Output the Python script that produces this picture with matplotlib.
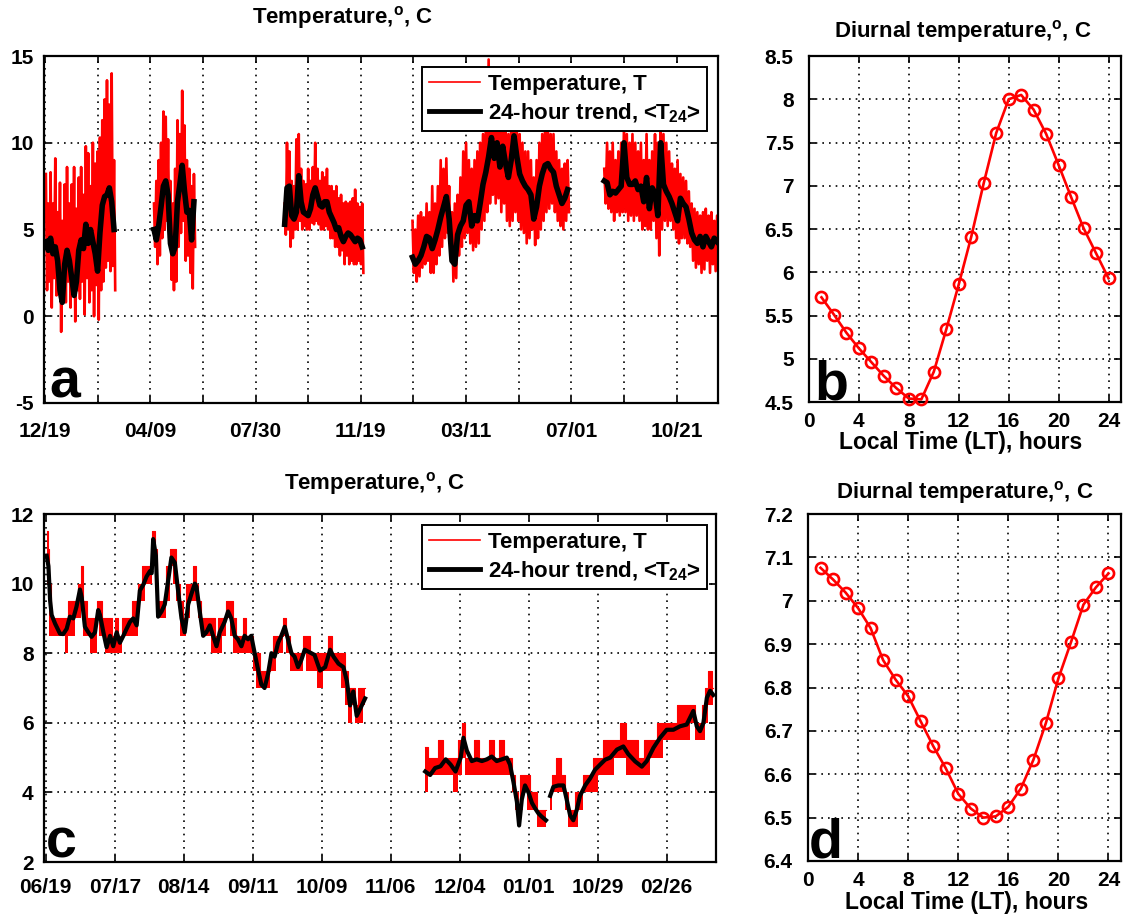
import numpy as np
import matplotlib
matplotlib.use('Agg')
import matplotlib.pyplot as plt
from matplotlib.lines import Line2D
from matplotlib.ticker import FormatStrFormatter, FixedLocator

plt.rcParams['font.family'] = ['Liberation Sans', 'DejaVu Sans']
plt.rcParams['font.weight'] = 'bold'
plt.rcParams['mathtext.fontset'] = 'custom'
plt.rcParams['mathtext.rm'] = 'Liberation Sans:bold'
plt.rcParams['mathtext.bf'] = 'Liberation Sans:bold'
plt.rcParams['mathtext.it'] = 'Liberation Sans:bold'
plt.rcParams['mathtext.default'] = 'rm'

# ---------------- Panel a data (days since 12/19) ----------------
a_seg_start = [1, 116, 255, 391, 595]
a_seg_step = [2.5, 2.5, 2.5, 3, 3]

a1_trend = [4.3, 3.8, 4.5, 3.6, 4.0, 3.2, 1.5, 0.8, 3.0, 3.8, 3.2, 2.2, 1.2, 2.0, 3.8,
            4.4, 3.9, 5.3, 4.2, 5.0, 4.3, 3.6, 2.6, 4.8, 6.4, 6.9, 7.0, 7.4, 6.6, 5.0]
a1_hi = [8.2, 6.5, 8.3, 6.5, 9.1, 6.0, 7.7, 5.5, 7.6, 8.6, 6.5, 7.6, 8.6, 6.2, 8.0,
         8.6, 7.0, 9.8, 9.4, 7.5, 10.0, 8.8, 9.5, 10.3, 11.3, 12.5, 13.6, 12.2, 14.0, 9.0]
a1_lo = [1.5, 2.0, 0.5, 2.2, 1.2, 2.0, -0.9, 1.5, 0.8, 2.0, 0.5, 1.8, -0.3, 1.5, 1.0,
         2.0, 0.1, 2.2, 0.8, 1.5, 0.0, 1.8, -0.2, 1.5, 2.0, 2.8, 3.2, 2.6, 2.9, 1.5]

a2_trend = [5.0, 4.4, 5.2, 6.3, 7.5, 7.8, 7.0, 4.2, 3.6, 4.0, 6.6, 7.6, 8.7, 7.2, 6.0, 6.1, 4.4, 6.6]
a2_hi = [6.5, 7.8, 9.0, 10.0, 11.8, 11.5, 10.2, 7.8, 6.5, 8.5, 11.3, 10.5, 13.0, 11.0, 9.0, 8.5, 7.5, 8.2]
a2_lo = [4.0, 3.0, 3.5, 4.5, 5.0, 5.5, 4.5, 2.1, 1.5, 2.0, 4.0, 4.8, 5.5, 3.2, 3.5, 2.5, 1.6, 4.0]

a3_trend = [5.3, 7.4, 7.5, 5.8, 5.6, 6.0, 8.1, 6.6, 6.0, 5.9, 5.8, 6.2, 7.0, 7.4, 6.9, 6.4, 6.3,
            6.6, 6.6, 6.0, 5.7, 5.4, 5.0, 5.1, 4.6, 4.3, 4.6, 4.8, 4.7, 4.5, 4.3, 4.5, 4.4, 4.0]
a3_hi = [6.5, 10.0, 9.5, 7.8, 7.5, 10.2, 10.5, 8.5, 7.8, 7.6, 8.5, 7.8, 8.6, 10.0, 8.5, 7.8, 8.3,
         8.0, 8.5, 7.5, 7.5, 7.2, 7.5, 6.8, 7.0, 6.5, 6.6, 6.5, 6.6, 6.8, 7.3, 6.5, 6.3, 6.5]
a3_lo = [4.7, 5.0, 4.0, 4.5, 5.0, 5.0, 5.5, 5.0, 5.2, 5.0, 5.0, 5.4, 5.3, 5.5, 5.3, 5.0, 5.0,
         5.2, 5.0, 4.5, 4.5, 4.0, 4.0, 3.5, 3.8, 3.0, 3.5, 3.0, 3.2, 3.0, 3.0, 3.2, 3.0, 2.5]

a4_trend = [3.4, 3.0, 3.2, 3.5, 4.0, 4.6, 4.5, 3.9, 4.4, 5.0, 5.7, 6.3, 6.9, 5.6, 3.2, 3.0, 4.7, 5.2,
            5.5, 6.4, 6.6, 5.2, 5.8, 5.5, 6.5, 7.6, 8.3, 9.2, 10.3, 9.1, 10.0, 8.6, 9.8, 8.8, 8.0, 9.0,
            10.4, 9.2, 8.2, 7.8, 7.5, 7.3, 7.0, 5.6, 6.3, 7.5, 8.2, 8.7, 8.8, 8.5, 8.3, 7.5, 7.0, 6.5,
            6.8, 7.3]
a4_hi = [5.5, 5.0, 5.8, 6.0, 5.7, 6.5, 6.0, 7.5, 6.5, 7.5, 9.0, 8.5, 9.1, 7.5, 6.0, 6.5, 7.0, 8.0,
         9.5, 10.0, 9.0, 8.5, 9.0, 9.5, 10.0, 10.5, 11.0, 14.8, 11.5, 11.0, 11.5, 11.0, 11.5, 11.0,
         10.5, 11.0, 11.5, 11.0, 10.5, 10.0, 9.5, 9.5, 9.0, 8.0, 9.0, 10.0, 10.5, 11.0, 11.0, 10.5,
         10.5, 9.5, 9.0, 8.5, 8.8, 9.0]
a4_lo = [2.5, 2.0, 2.3, 2.8, 3.0, 3.2, 2.5, 2.5, 3.0, 3.5, 4.0, 4.5, 4.8, 3.5, 2.0, 2.2, 3.5, 4.0,
         4.5, 4.8, 4.2, 3.8, 4.0, 4.2, 5.0, 5.5, 6.0, 6.5, 7.0, 6.5, 6.8, 6.0, 6.5, 5.5, 5.2, 5.5,
         6.0, 5.5, 5.0, 4.8, 4.2, 4.5, 5.0, 4.1, 4.5, 5.0, 5.5, 6.0, 6.2, 6.5, 6.0, 5.5, 5.2, 5.0,
         5.5, 6.0]

a5_trend = [7.8, 7.7, 7.0, 7.2, 7.1, 7.3, 7.5, 10.0, 8.0, 7.6, 7.6, 7.8, 7.3, 7.5, 6.6, 8.0, 6.2,
            7.4, 7.1, 5.8, 10.0, 7.6, 7.2, 6.9, 6.5, 6.0, 5.5, 6.8, 6.5, 6.3, 5.6, 4.8, 4.4, 4.2,
            4.6, 4.0, 4.6, 4.3, 4.0, 4.5, 4.3]
a5_hi = [8.5, 10.0, 9.5, 10.0, 9.0, 9.5, 10.0, 11.0, 10.5, 10.0, 10.5, 10.0, 9.5, 10.0, 9.0, 10.5,
         9.0, 9.5, 10.5, 10.0, 11.0, 10.5, 10.0, 9.5, 8.8, 8.5, 9.0, 8.2, 8.0, 7.8, 7.2, 6.5, 6.2,
         6.0, 5.8, 6.0, 6.2, 5.8, 6.0, 5.5, 5.8]
a5_lo = [6.5, 6.2, 6.0, 5.5, 6.0, 5.8, 6.0, 6.0, 5.5, 5.8, 5.5, 5.8, 5.5, 5.0, 5.2, 5.0, 5.0,
         5.5, 4.5, 3.5, 5.0, 5.5, 5.2, 5.5, 5.0, 4.5, 4.2, 4.5, 4.5, 4.2, 4.0, 3.2, 2.8, 3.0,
         2.5, 2.7, 3.2, 2.5, 3.0, 2.6, 3.0]

a_xtick_step = 56
a_xtick_labels = ['12/19', '', '04/09', '', '07/30', '', '11/19', '', '03/11', '', '07/01', '', '10/21']
a_yticks = [-5, 0, 5, 10, 15]

# ---------------- Panel c data (days since 06/19) ----------------
c1_days = [0.4, 1.1, 1.8, 2.4, 3.8, 5.8, 7.1, 8.5, 9.8, 11.2, 12.5, 13.9, 14.6, 15.9, 17.3, 18.6,
           20.0, 21.3, 22.0, 23.4, 24.7, 26.1, 27.4, 28.8, 30.1, 31.5, 32.8, 34.2, 35.5, 36.9,
           38.2, 39.6, 40.9, 42.3, 43.0, 43.6, 44.7, 45.6, 47.0, 48.3, 49.7, 51.0, 52.4, 53.7,
           55.1, 56.4, 57.8, 59.1, 60.5, 61.2, 62.5, 63.9, 65.2, 66.6, 67.9, 69.3, 70.6, 72.6,
           74.0, 75.3, 76.7, 78.0, 79.4, 80.7, 82.1, 83.4, 84.8, 86.1, 87.5, 88.8, 90.2, 91.6,
           92.9, 94.3, 95.6, 97.0, 98.3, 99.7, 101.0, 102.4, 103.7, 105.1, 106.4, 107.8, 109.1,
           111.3, 113.4, 115.4, 116.8, 118.8, 120.8, 122.2, 123.5, 124.8, 126.2, 127.6, 129.6]
c1_trend = [10.8, 10.5, 9.5, 9.1, 8.85, 8.56, 8.55, 8.7, 9.05, 9.0, 9.34, 9.83, 9.6, 8.76, 8.6, 8.47,
            8.6, 9.24, 9.1, 8.6, 8.17, 8.5, 8.2, 8.6, 8.3, 8.5, 8.7, 8.9, 9.0, 8.8,
            9.8, 9.97, 10.2, 10.36, 10.3, 11.28, 10.8, 9.05, 9.2, 9.4, 10.1, 10.75, 10.6, 9.8,
            9.0, 8.6, 9.4, 9.7, 10.0, 9.9, 9.2, 8.5, 8.6, 8.8, 8.5, 8.2, 8.6, 8.9,
            9.2, 9.0, 8.5, 8.4, 8.2, 8.5, 8.4, 8.5, 8.0, 7.55, 7.1, 7.0, 7.4, 8.0,
            7.9, 8.3, 8.5, 8.76, 8.4, 8.0, 7.9, 7.6, 7.8, 8.1, 8.05, 8.0, 7.95,
            7.5, 7.6, 8.1, 7.9, 7.7, 7.6, 7.2, 6.5, 6.9, 6.2, 6.4, 6.7]
c1_hi = [11.5, 11.0, 10.0, 9.0, 9.0, 9.0, 9.0, 9.0, 9.5, 9.5, 9.5, 10.0, 10.5, 9.5, 9.0, 9.0,
         9.0, 9.5, 9.5, 9.0, 9.0, 9.0, 8.5, 9.0, 8.5, 9.0, 9.0, 9.0, 9.5, 9.5,
         10.0, 10.5, 10.5, 10.5, 10.5, 11.5, 11.0, 9.5, 9.5, 9.5, 10.5, 11.0, 11.0, 10.0,
         9.5, 9.0, 10.0, 10.0, 10.5, 10.0, 9.5, 9.0, 9.0, 9.0, 9.0, 8.5, 9.0, 9.0,
         9.5, 9.5, 9.0, 8.5, 8.5, 9.0, 8.5, 8.5, 8.0, 8.0, 7.5, 7.5, 7.5, 8.0,
         8.5, 8.5, 8.5, 9.0, 8.5, 8.0, 8.0, 8.0, 8.0, 8.5, 8.5, 8.0, 8.0,
         8.0, 8.0, 8.5, 8.0, 8.0, 8.0, 7.5, 7.0, 7.0, 6.5, 7.0, 7.0]
c1_lo = [10.0, 9.5, 8.5, 8.5, 8.5, 8.5, 8.5, 8.0, 8.5, 8.5, 9.0, 9.0, 9.5, 8.5, 8.5, 8.0,
         8.0, 9.0, 8.5, 8.5, 8.0, 8.0, 8.0, 8.0, 8.0, 8.5, 8.5, 8.5, 8.5, 8.5,
         9.5, 9.5, 10.0, 10.0, 10.0, 10.5, 10.0, 9.0, 9.0, 9.0, 9.5, 10.5, 10.0, 9.5,
         8.5, 8.5, 9.0, 9.5, 9.5, 9.5, 9.0, 8.5, 8.5, 8.5, 8.0, 8.0, 8.0, 8.5,
         9.0, 8.5, 8.0, 8.0, 8.0, 8.0, 8.0, 8.0, 7.5, 7.0, 7.0, 7.0, 7.0, 7.5,
         7.5, 8.0, 8.0, 8.5, 8.0, 7.5, 7.5, 7.5, 7.5, 8.0, 7.5, 7.5, 7.5,
         7.0, 7.5, 7.5, 7.5, 7.5, 7.0, 6.5, 6.0, 6.5, 6.0, 6.0, 6.5]

c2_days = [154, 156, 158, 160.2, 162.3, 164.3, 166.3, 168.4, 169.5, 170.9, 172.9, 174.9, 177, 179,
           181, 183, 185.1, 187.1, 188.4, 189.8, 191.2, 192.1, 193.2, 194.5, 195.9, 197.3, 198.6,
           199.9, 201.3, 203]
c2_trend = [4.6, 4.5, 4.7, 4.75, 4.95, 4.8, 4.6, 5.0, 5.57, 5.2, 4.9, 4.95, 4.9, 4.95, 5.03, 4.9,
            4.95, 5.0, 4.8, 4.3, 3.73, 3.05, 3.8, 4.2, 4.0, 3.7, 3.54, 3.4, 3.3, 3.2]
c2_hi = [5.3, 5.0, 5.0, 5.5, 5.0, 5.0, 5.0, 5.5, 6.0, 5.0, 5.0, 5.5, 5.0, 5.0, 5.5, 5.0, 5.5, 5.0,
         5.0, 4.5, 4.0, 3.5, 4.5, 4.5, 4.5, 4.0, 4.0, 3.5, 3.5, 3.5]
c2_lo = [4.0, 4.5, 4.5, 4.5, 4.5, 4.5, 4.0, 4.5, 5.0, 4.5, 4.5, 4.5, 4.5, 4.5, 4.5, 4.5, 4.5, 4.5,
         4.5, 4.0, 3.5, 3.0, 3.5, 4.0, 3.5, 3.5, 3.5, 3.0, 3.0, 3.0]

c3_days = [204.7, 206, 208, 210.1, 211.4, 212.8, 214.1, 215.5, 216.8, 218.9, 220.9, 222.9, 225, 227,
           229.1, 231.8, 234.4, 236.4, 239.2, 241.9, 243.9, 246.6, 249.3, 252, 254.7, 257.4, 260.1,
           262.8, 264.2, 265.5, 266.9, 268.3, 269.6, 270.9]
c3_trend = [3.9, 4.16, 4.2, 4.2, 3.8, 3.34, 3.2, 3.5, 3.9, 4.2, 4.4, 4.65, 4.8, 4.94, 5.0, 5.23, 5.32,
            5.1, 4.89, 4.74, 4.9, 5.28, 5.57, 5.8, 5.8, 5.9, 5.95, 6.34, 5.9, 5.76, 6.0, 6.72, 6.92, 6.8]
c3_hi = [4.0, 4.5, 5.0, 4.5, 4.0, 3.5, 3.5, 4.0, 4.0, 4.5, 4.5, 5.0, 5.0, 5.5, 5.5, 5.5, 6.0, 5.5,
         5.5, 5.0, 5.5, 5.5, 6.0, 6.0, 6.0, 6.5, 6.5, 6.5, 6.0, 6.0, 6.5, 7.0, 7.5, 7.0]
c3_lo = [3.5, 4.0, 4.0, 4.0, 3.5, 3.0, 3.0, 3.0, 3.5, 4.0, 4.0, 4.0, 4.5, 4.5, 4.5, 5.0, 5.0, 4.5,
         4.5, 4.5, 4.5, 5.0, 5.0, 5.5, 5.5, 5.5, 5.5, 6.0, 5.5, 5.5, 5.5, 6.0, 6.5, 6.5]

c_xtick_step = 28
c_xtick_labels = ['06/19', '07/17', '08/14', '09/11', '10/09', '11/06', '12/04', '01/01', '10/29', '02/26']
c_yticks = [2, 4, 6, 8, 10, 12]

# ---------------- Panels b and d (diurnal) ----------------
hours = list(range(1, 25))
b_temp = [5.71, 5.51, 5.30, 5.12, 4.96, 4.80, 4.66, 4.54, 4.53, 4.85, 5.34, 5.86,
          6.41, 7.03, 7.61, 8.00, 8.05, 7.88, 7.60, 7.24, 6.87, 6.51, 6.22, 5.93]
d_temp = [7.076, 7.049, 7.019, 6.983, 6.937, 6.863, 6.818, 6.780, 6.722, 6.665, 6.614, 6.555,
          6.521, 6.500, 6.503, 6.525, 6.567, 6.633, 6.718, 6.821, 6.904, 6.991, 7.031, 7.063]
b_yticks = [4.5, 5, 5.5, 6, 6.5, 7, 7.5, 8, 8.5]
d_yticks = [6.4, 6.5, 6.6, 6.7, 6.8, 6.9, 7.0, 7.1, 7.2]
hour_ticks = [0, 4, 8, 12, 16, 20, 24]

# ---------------- figure ----------------
W, H = 1126, 916
fig = plt.figure(figsize=(W / 100, H / 100), dpi=100)


def px_axes(l, t, r, b):
    return fig.add_axes([l / W, 1 - b / H, (r - l) / W, (b - t) / H])


TICK_FS = 15
RED = '#ff0000'


def style(ax, xpad, ypad):
    for s in ax.spines.values():
        s.set_linewidth(1.6)
        s.set_color('black')
    ax.tick_params(direction='in', length=5, width=1.2, top=True, right=True,
                   labelsize=TICK_FS)
    ax.tick_params(axis='x', pad=xpad)
    ax.tick_params(axis='y', pad=ypad)
    ax.grid(True, color='black', linestyle=(0, (1, 3)), linewidth=1.2)
    ax.set_axisbelow(True)
    for lab in ax.get_xticklabels() + ax.get_yticklabels():
        lab.set_fontweight('bold')


def zigzag(start, step, hi, lo):
    n = min(len(hi), len(lo))
    d = start + step * np.arange(n)
    x = np.empty(2 * n)
    y = np.empty(2 * n)
    x[0::2] = d
    x[1::2] = d + step / 2.0
    y[0::2] = hi[:n]
    y[1::2] = lo[:n]
    return x, y


# Panel a
axa = px_axes(44, 56, 718, 403)
a_segs = [(a1_trend, a1_hi, a1_lo), (a2_trend, a2_hi, a2_lo), (a3_trend, a3_hi, a3_lo),
          (a4_trend, a4_hi, a4_lo), (a5_trend, a5_hi, a5_lo)]
for (tr, hi, lo), st, sp in zip(a_segs, a_seg_start, a_seg_step):
    x, y = zigzag(st, sp, hi, lo)
    axa.plot(x, y, color=RED, lw=1.9, zorder=2)
for (tr, hi, lo), st, sp in zip(a_segs, a_seg_start, a_seg_step):
    d = st + sp * np.arange(len(tr))
    axa.plot(d, tr, color='black', lw=4.0, zorder=3)
axa.set_xlim(-1, 716)
axa.set_ylim(-5, 15)
axa.xaxis.set_major_locator(FixedLocator([a_xtick_step * i for i in range(len(a_xtick_labels))]))
axa.set_xticklabels(a_xtick_labels)
axa.set_yticks(a_yticks)
axa.yaxis.set_major_formatter(FormatStrFormatter('%g'))
style(axa, 14, 7.5)

# Panel c
axc = px_axes(44, 514, 716, 862)
c_segs = [(c1_days, c1_trend, c1_hi, c1_lo), (c2_days, c2_trend, c2_hi, c2_lo),
          (c3_days, c3_trend, c3_hi, c3_lo)]
for dd, tr, hi, lo in c_segs:
    axc.fill_between(dd, lo, hi, step='mid', color=RED, lw=0, zorder=2)
    axc.plot(dd, hi, color=RED, lw=0.8, drawstyle='steps-mid', zorder=2)
for dd, tr, hi, lo in c_segs:
    axc.plot(dd, tr, color='black', lw=3.0, zorder=3)
axc.set_xlim(-0.7, 272)
axc.set_ylim(2, 12)
axc.xaxis.set_major_locator(FixedLocator([c_xtick_step * i for i in range(len(c_xtick_labels))]))
axc.set_xticklabels(c_xtick_labels)
axc.set_yticks(c_yticks)
axc.yaxis.set_major_formatter(FormatStrFormatter('%g'))
style(axc, 11.5, 7.5)

# legends
leg_handles = [Line2D([], [], color=RED, lw=1.2), Line2D([], [], color='black', lw=3.5)]
leg_labels = ['Temperature, T', r'24-hour trend, <T$_{24}$>']
for ax, anchor in ((axa, (0.984, 0.968)), (axc, (0.987, 0.968))):
    lg = ax.legend(leg_handles, leg_labels, loc='upper right', bbox_to_anchor=anchor,
                   borderaxespad=0, fancybox=False, framealpha=1, edgecolor='black',
                   prop={'weight': 'bold', 'size': 16}, handlelength=2.3,
                   handletextpad=0.35, labelspacing=0.3, borderpad=0.3)
    lg.get_frame().set_linewidth(1.4)
    lg.set_zorder(10)

# Panel b
axb = px_axes(809, 56, 1121, 402)
axb.plot(hours, b_temp, color=RED, lw=1.9, marker='o', markersize=8,
         markerfacecolor='none', markeredgewidth=1.9, zorder=3, clip_on=False)
axb.set_xlim(0, 25)
axb.set_ylim(4.5, 8.5)
axb.set_xticks(hour_ticks)
axb.set_yticks(b_yticks)
axb.yaxis.set_major_formatter(FormatStrFormatter('%g'))
style(axb, 7, 11)

# Panel d
axd = px_axes(808, 514, 1121, 861)
axd.plot(hours, d_temp, color=RED, lw=1.9, marker='o', markersize=8,
         markerfacecolor='none', markeredgewidth=1.9, zorder=3, clip_on=False)
axd.set_xlim(0, 25)
axd.set_ylim(6.4, 7.2)
axd.set_xticks(hour_ticks)
axd.set_yticks(d_yticks)
axd.yaxis.set_major_formatter(FormatStrFormatter('%g'))
style(axd, 7.5, 11)


def ftext(x, y, s, **kw):
    fig.text(x / W, 1 - y / H, s, **kw)


TITLE_FS = 16
ftext(343, 18, r'Temperature,$^{\rm o}$, C', ha='center', va='center', fontsize=TITLE_FS, fontweight='bold')
ftext(375, 483, r'Temperature,$^{\rm o}$, C', ha='center', va='center', fontsize=TITLE_FS, fontweight='bold')
ftext(963, 32, r'Diurnal temperature,$^{\rm o}$, C', ha='center', va='center', fontsize=TITLE_FS, fontweight='bold')
ftext(965, 492, r'Diurnal temperature,$^{\rm o}$, C', ha='center', va='center', fontsize=TITLE_FS, fontweight='bold')
ftext(961, 443, 'Local Time (LT), hours', ha='center', va='center', fontsize=16.5, fontweight='bold')
ftext(967, 903, 'Local Time (LT), hours', ha='center', va='center', fontsize=16.5, fontweight='bold')

LET_FS = 40
ftext(49, 397, 'a', ha='left', va='baseline', fontsize=LET_FS, fontweight='bold')
ftext(814, 400, 'b', ha='left', va='baseline', fontsize=LET_FS, fontweight='bold')
ftext(46, 857, 'c', ha='left', va='baseline', fontsize=LET_FS, fontweight='bold')
ftext(809, 858, 'd', ha='left', va='baseline', fontsize=LET_FS, fontweight='bold')

fig.savefig('out.png', dpi=100)
